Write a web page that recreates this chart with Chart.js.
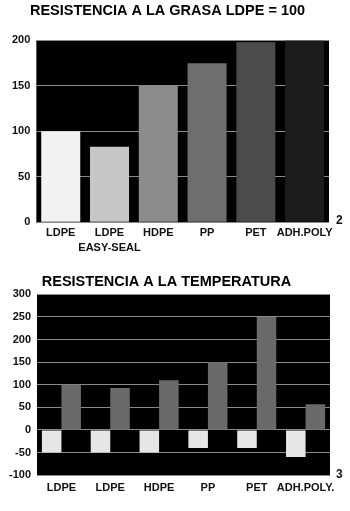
<!DOCTYPE html>
<html>
<head>
<meta charset="utf-8">
<script src="https://cdn.jsdelivr.net/npm/chart.js@4/dist/chart.umd.min.js"></script>
<style>
  html, body { margin: 0; padding: 0; background: #fff; }
  #wrap { position: relative; width: 350px; height: 511px; overflow: hidden; }
  .box { position: absolute; left: 0; width: 350px; }
  #box1 { top: 0; height: 258px; }
  #box2 { top: 258px; height: 253px; }
  .fig { position: absolute; font: bold 12px 'Liberation Sans', Arial, sans-serif; color: #111; }
</style>
</head>
<body>
<div id="wrap">
  <div class="box" id="box1"><canvas id="grasaChart"></canvas></div>
  <div class="box" id="box2"><canvas id="tempChart"></canvas></div>
  <span class="fig" style="left:336px; top:213px;">2</span>
  <span class="fig" style="left:336px; top:467px;">3</span>
</div>
<script>
// datos: resistencia a la grasa (LDPE = 100)
const grasaLabels = [['LDPE'], ['LDPE', 'EASY-SEAL'], ['HDPE'], ['PP'], ['PET'], ['ADH.POLY']];
const grasaValues = [100, 83, 150, 175, 198, 200];
const grasaColors = ['#f2f2f2', '#c6c6c6', '#8c8c8c', '#6e6e6e', '#4b4b4b', '#1c1c1c'];

// datos: resistencia a la temperatura (mínima / máxima)
const tempLabels = ['LDPE', 'LDPE', 'HDPE', 'PP', 'PET', 'ADH.POLY.'];
const tempMin = [-50, -50, -50, -40, -40, -60];
const tempMax = [100, 93, 110, 150, 250, 57];

const fontFamily = "'Liberation Sans', Arial, sans-serif";

// fondo negro del área del gráfico
const blackArea = {
    id: 'blackArea',
    beforeDraw(chart) {
        const a = chart.chartArea;
        const c = chart.ctx;
        c.save();
        c.fillStyle = '#000';
        c.fillRect(a.left, a.top, a.right - a.left, a.bottom - a.top);
        c.restore();
    }
};

function baseOptions(title, pad, titlePad, xPad, yMin, yMax) {
    return {
        responsive: true,
        maintainAspectRatio: false,
        animation: false,
        layout: { padding: pad },
        plugins: {
            legend: { display: false },
            tooltip: { enabled: false },
            title: {
                display: true,
                text: title,
                color: '#000',
                font: { family: fontFamily, size: 14.5, weight: 'bold' },
                padding: titlePad
            }
        },
        scales: {
            x: {
                grid: { display: false, drawTicks: false },
                border: { display: false },
                ticks: {
                    color: '#111',
                    padding: xPad,
                    maxRotation: 0,
                    autoSkip: false,
                    font: { family: fontFamily, size: 11, weight: 'bold', lineHeight: 1.35 }
                }
            },
            y: {
                min: yMin,
                max: yMax,
                grid: { color: '#8a8a8a', lineWidth: 1, drawTicks: false },
                border: { display: false },
                ticks: {
                    stepSize: 50,
                    color: '#111',
                    padding: 6,
                    font: { family: fontFamily, size: 11, weight: 'bold' }
                }
            }
        }
    };
}

new Chart(document.getElementById('grasaChart').getContext('2d'), {
    type: 'bar',
    data: {
        labels: grasaLabels,
        datasets: [{
            data: grasaValues,
            backgroundColor: grasaColors,
            borderWidth: 0,
            categoryPercentage: 0.8,
            barPercentage: 1.0
        }]
    },
    options: baseOptions('RESISTENCIA A LA GRASA LDPE = 100',
        { left: 6, right: 21, top: 0, bottom: 0 },
        { top: 2, bottom: 21 }, 3, 0, 200),
    plugins: [blackArea]
});

new Chart(document.getElementById('tempChart').getContext('2d'), {
    type: 'bar',
    data: {
        labels: tempLabels,
        datasets: [{
            data: tempMin,
            backgroundColor: '#e6e6e6',
            borderWidth: 0,
            categoryPercentage: 0.8,
            barPercentage: 1.0
        }, {
            data: tempMax,
            backgroundColor: '#6a6a6a',
            borderWidth: 0,
            categoryPercentage: 0.8,
            barPercentage: 1.0
        }]
    },
    options: baseOptions('RESISTENCIA A LA TEMPERATURA',
        { left: 3, right: 20, top: 0, bottom: 11 },
        { top: 15, bottom: 4 }, 5, -100, 300),
    plugins: [blackArea]
});
</script>
</body>
</html>
